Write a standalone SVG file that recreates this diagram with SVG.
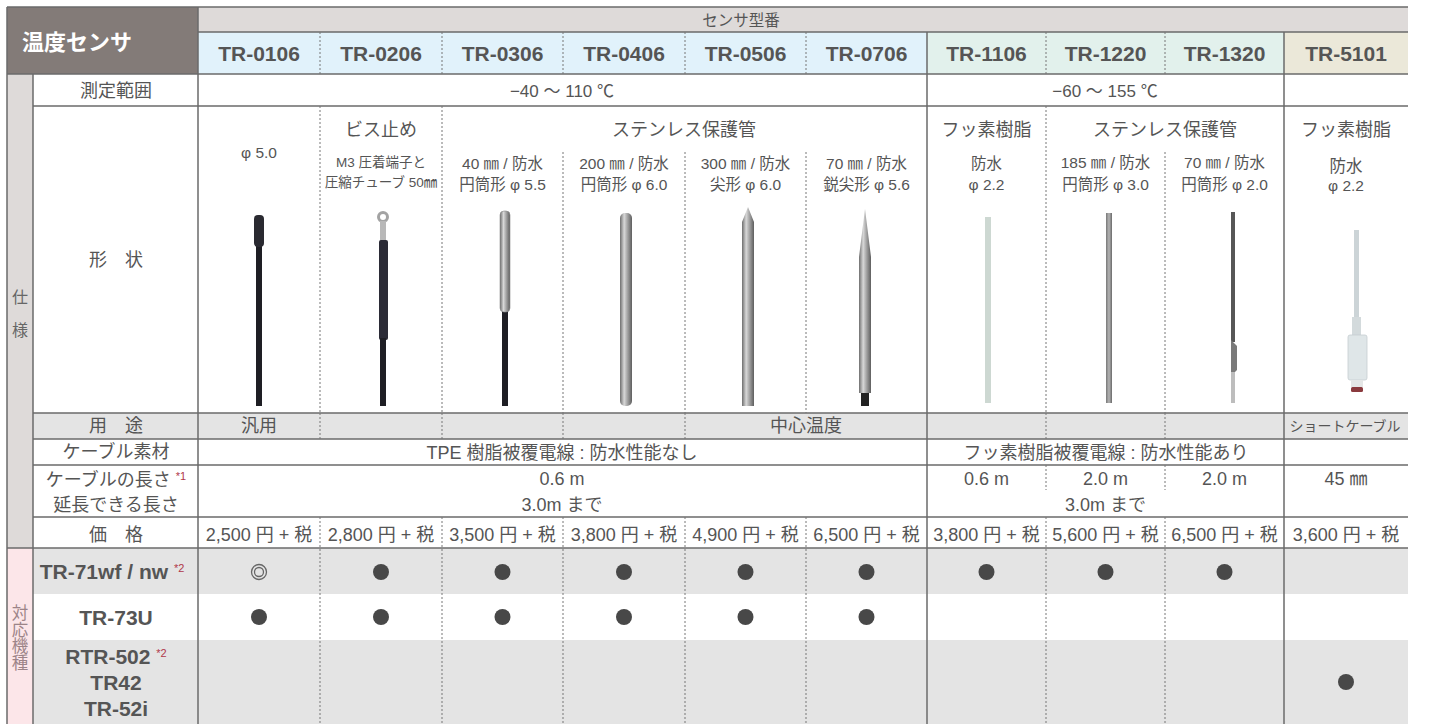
<svg xmlns="http://www.w3.org/2000/svg" width="1433" height="724" viewBox="0 0 1433 724">
<style>
text{font-family:"Liberation Sans","Noto Sans CJK JP",sans-serif;fill:#555;font-size:18px;text-anchor:middle}
.b{font-weight:bold;font-size:21px}
.m{font-size:15.5px}
.xs{font-size:13.5px}
.sc{font-size:14px}
.v{font-size:16px;fill:#666}
.vp{font-size:16.5px;fill:#9c8488}
.r{fill:#b0384a;font-size:11px;font-weight:normal}
.hd{font-family:"Noto Sans CJK JP",sans-serif;font-weight:bold;font-size:22px;fill:#fff;text-anchor:start}
.sol{stroke:#6b6b6b;stroke-width:1.5;fill:none}
.dot{stroke:#777;stroke-width:1;stroke-dasharray:2 2;fill:none}
.dt{fill:#484848}
</style>
<defs>
<linearGradient id="metal" x1="0" x2="1" y1="0" y2="0">
<stop offset="0" stop-color="#6e6e6e"/><stop offset="0.35" stop-color="#d8d8d8"/><stop offset="0.6" stop-color="#a8a8a8"/><stop offset="1" stop-color="#5e5e5e"/>
</linearGradient>
<linearGradient id="gr" x1="0" x2="1" y1="0" y2="0">
<stop offset="0" stop-color="#777"/><stop offset="0.5" stop-color="#b5b5b5"/><stop offset="1" stop-color="#6a6a6a"/>
</linearGradient>
</defs>

<g id="backgrounds">
<rect x="7" y="7" width="191" height="67" fill="#837b78"/>
<rect x="198" y="7" width="1210" height="25" fill="#dedad9"/>
<rect x="198" y="32" width="729" height="42" fill="#e1f2fb"/>
<rect x="927" y="32" width="357" height="42" fill="#e2f1ec"/>
<rect x="1284" y="32" width="124" height="42" fill="#ebe8d9"/>
<rect x="7" y="74" width="26" height="474" fill="#dedad9"/>
<rect x="7" y="548" width="26" height="176" fill="#fce6e9"/>
<rect x="33" y="413" width="1375" height="26" fill="#e4e4e4"/>
<rect x="33" y="548" width="1375" height="46" fill="#e4e4e4"/>
<rect x="33" y="640" width="1375" height="84" fill="#e4e4e4"/>
</g>

<g id="connectors">
<path class="sol" d="M7,7H1408M198,32H1408M7,74H1408M33,106H1408M33,413H1408M33,439H1408M33,465H1408M33,517H1408M7,548H1408"/>
<path class="sol" d="M7,7V724M33,74V724M198,7V724M927,32V724M1284,32V724"/>
<path class="dot" d="M320,32V74M442,32V74M563,32V74M685,32V74M806,32V74M1046,32V74M1165,32V74"/>
<path class="dot" d="M320,106V413M442,106V413M563,152V413M685,152V413M806,152V413M1046,106V413M1165,152V413"/>
<path class="dot" d="M320,439V413M442,413V439M563,413V439M685,413V439M1046,413V439M1165,413V439"/>
<path class="dot" d="M1046,465V490M1165,465V490"/>
<path class="dot" d="M320,517V724M442,517V724M563,517V724M685,517V724M806,517V724M1046,517V724M1165,517V724"/>
</g>

<g id="header">
<text class="hd" x="22" y="50">温度センサ</text>
<text x="741" y="26" style="font-size:15.5px">センサ型番</text>
</g>

<g id="models">
<text class="b" x="259" y="61">TR-0106</text>
<text class="b" x="381" y="61">TR-0206</text>
<text class="b" x="502.5" y="61">TR-0306</text>
<text class="b" x="624" y="61">TR-0406</text>
<text class="b" x="745.5" y="61">TR-0506</text>
<text class="b" x="866.5" y="61">TR-0706</text>
<text class="b" x="986.5" y="61">TR-1106</text>
<text class="b" x="1105.5" y="61">TR-1220</text>
<text class="b" x="1224.5" y="61">TR-1320</text>
<text class="b" x="1346" y="61">TR-5101</text>
</g>

<g id="side-labels">
<text class="v" x="20" y="303">仕</text>
<text class="v" x="20" y="336">様</text>
<text class="vp" x="20" y="619">対</text>
<text class="vp" x="20" y="636">応</text>
<text class="vp" x="20" y="652">機</text>
<text class="vp" x="20" y="669">種</text>
</g>

<g id="row-labels">
<text x="116" y="97">測定範囲</text>
<text x="116" y="266">形　状</text>
<text x="116" y="432">用　途</text>
<text x="116" y="458">ケーブル素材</text>
<text x="116" y="486">ケーブルの長さ <tspan class="r" dy="-6">*1</tspan></text>
<text x="116" y="511">延長できる長さ</text>
<text x="116" y="541">価　格</text>
<text class="b" x="112" y="579">TR-71wf / nw <tspan class="r" dy="-7">*2</tspan></text>
<text class="b" x="116" y="625">TR-73U</text>
<text class="b" x="116" y="664">RTR-502 <tspan class="r" dy="-7">*2</tspan></text>
<text class="b" x="116" y="690">TR42</text>
<text class="b" x="116" y="716">TR-52i</text>
</g>

<g id="range">
<text x="562" y="97" style="font-size:17px">−40 ～ 110 ℃</text>
<text x="1105" y="97" style="font-size:17px">−60 ～ 155 ℃</text>
</g>

<g id="shape-texts">
<text x="381" y="136">ビス止め</text>
<text x="684" y="136">ステンレス保護管</text>
<text x="986.5" y="136">フッ素樹脂</text>
<text x="1165" y="136">ステンレス保護管</text>
<text x="1346" y="136">フッ素樹脂</text>
<text class="m" x="259" y="158">φ 5.0</text>
<text class="xs" x="381" y="167">M3 圧着端子と</text>
<text class="xs" x="381" y="187">圧縮チューブ 50㎜</text>
<text class="m" x="502.5" y="169">40 ㎜ / 防水</text>
<text class="m" x="502.5" y="190">円筒形 φ 5.5</text>
<text class="m" x="624" y="169">200 ㎜ / 防水</text>
<text class="m" x="624" y="190">円筒形 φ 6.0</text>
<text class="m" x="745.5" y="169">300 ㎜ / 防水</text>
<text class="m" x="745.5" y="190">尖形 φ 6.0</text>
<text class="m" x="866.5" y="169">70 ㎜ / 防水</text>
<text class="m" x="866.5" y="190">鋭尖形 φ 5.6</text>
<text class="m" x="986.5" y="169">防水</text>
<text class="m" x="986.5" y="190">φ 2.2</text>
<text class="m" x="1105.5" y="168">185 ㎜ / 防水</text>
<text class="m" x="1105.5" y="190">円筒形 φ 3.0</text>
<text class="m" x="1224.5" y="168">70 ㎜ / 防水</text>
<text class="m" x="1224.5" y="190">円筒形 φ 2.0</text>
<text x="1346" y="172" style="font-size:16.5px">防水</text>
<text class="m" x="1346" y="191">φ 2.2</text>
</g>

<g id="probes">
<g id="p0106"><rect x="256" y="244" width="6" height="162" fill="#1e1e24"/><rect x="254" y="215" width="10" height="32" rx="4" fill="#2a2a31"/></g>
<g id="p0206"><circle cx="383" cy="217" r="4.5" fill="none" stroke="#a3a3a3" stroke-width="3"/><rect x="380" y="221" width="6" height="20" fill="#b8b8b8"/><rect x="379" y="240" width="9" height="100" rx="2" fill="#2b2b36"/><rect x="380" y="338" width="6" height="68" fill="#1e1e24"/></g>
<g id="p0306"><rect x="502" y="310" width="6" height="96" fill="#1e1e24"/><rect x="500" y="211" width="10" height="101" rx="4" fill="url(#metal)" stroke="#8a8a8a" stroke-width="0.6"/></g>
<g id="p0406"><rect x="620" y="213" width="12" height="193" rx="5" fill="url(#metal)"/></g>
<g id="p0506"><path d="M748,207L754,222L754,406L742,406L742,222Z" fill="url(#metal)"/></g>
<g id="p0706"><rect x="861" y="392" width="8" height="14" fill="#222"/><path d="M865,209L871,257L871,393L859,393L859,257Z" fill="url(#metal)"/></g>
<g id="p1106"><rect x="985" y="217" width="6" height="186" fill="#cdd8d2"/></g>
<g id="p1220"><rect x="1106" y="213" width="6" height="190" fill="url(#gr)"/></g>
<g id="p1320"><rect x="1231" y="212" width="4" height="130" fill="#575757"/><path d="M1231,340L1237,346L1237,370L1233,374L1231,372Z" fill="#7a7a7a"/><rect x="1231" y="372" width="4" height="31" fill="#bdbdbd"/></g>
<g id="p5101"><rect x="1354" y="230" width="5" height="88" fill="#ccd4d7"/><rect x="1352" y="317" width="9" height="19" fill="#d3dadc"/><rect x="1348" y="335" width="19" height="45" rx="2" fill="#dfe6e8" stroke="#c5cdd0" stroke-width="0.8"/><rect x="1351" y="380" width="12" height="7" fill="#e4e6e6"/><rect x="1351" y="387" width="12" height="5" rx="1.5" fill="#8a3a3e"/></g>
</g>

<g id="usage">
<text x="259" y="432">汎用</text>
<text x="806" y="432">中心温度</text>
<text class="sc" x="1345" y="431">ショートケーブル</text>
</g>

<g id="cable">
<text x="562" y="459">TPE 樹脂被覆電線 : 防水性能なし</text>
<text x="1106" y="459">フッ素樹脂被覆電線 : 防水性能あり</text>
<text x="562" y="485">0.6 m</text>
<text x="562" y="511">3.0m まで</text>
<text x="986.5" y="485">0.6 m</text>
<text x="1105.5" y="485">2.0 m</text>
<text x="1224.5" y="485">2.0 m</text>
<text x="1105.5" y="511">3.0m まで</text>
<text x="1346" y="485">45 ㎜</text>
</g>

<g id="price">
<text x="259" y="541">2,500 円 + 税</text>
<text x="381" y="541">2,800 円 + 税</text>
<text x="502.5" y="541">3,500 円 + 税</text>
<text x="624" y="541">3,800 円 + 税</text>
<text x="745.5" y="541">4,900 円 + 税</text>
<text x="866.5" y="541">6,500 円 + 税</text>
<text x="986.5" y="541">3,800 円 + 税</text>
<text x="1105.5" y="541">5,600 円 + 税</text>
<text x="1224.5" y="541">6,500 円 + 税</text>
<text x="1346" y="541">3,600 円 + 税</text>
</g>

<g id="compat">
<circle cx="259" cy="572" r="7.5" fill="none" stroke="#666" stroke-width="1.3"/>
<circle cx="259" cy="572" r="4.5" fill="none" stroke="#666" stroke-width="1.3"/>
<circle class="dt" cx="381" cy="572" r="8"/>
<circle class="dt" cx="502.5" cy="572" r="8"/>
<circle class="dt" cx="624" cy="572" r="8"/>
<circle class="dt" cx="745.5" cy="572" r="8"/>
<circle class="dt" cx="866.5" cy="572" r="8"/>
<circle class="dt" cx="986.5" cy="572" r="8"/>
<circle class="dt" cx="1105.5" cy="572" r="8"/>
<circle class="dt" cx="1224.5" cy="572" r="8"/>
<circle class="dt" cx="259" cy="617" r="8"/>
<circle class="dt" cx="381" cy="617" r="8"/>
<circle class="dt" cx="502.5" cy="617" r="8"/>
<circle class="dt" cx="624" cy="617" r="8"/>
<circle class="dt" cx="745.5" cy="617" r="8"/>
<circle class="dt" cx="866.5" cy="617" r="8"/>
<circle class="dt" cx="1346" cy="682" r="8"/>
</g>
</svg>
